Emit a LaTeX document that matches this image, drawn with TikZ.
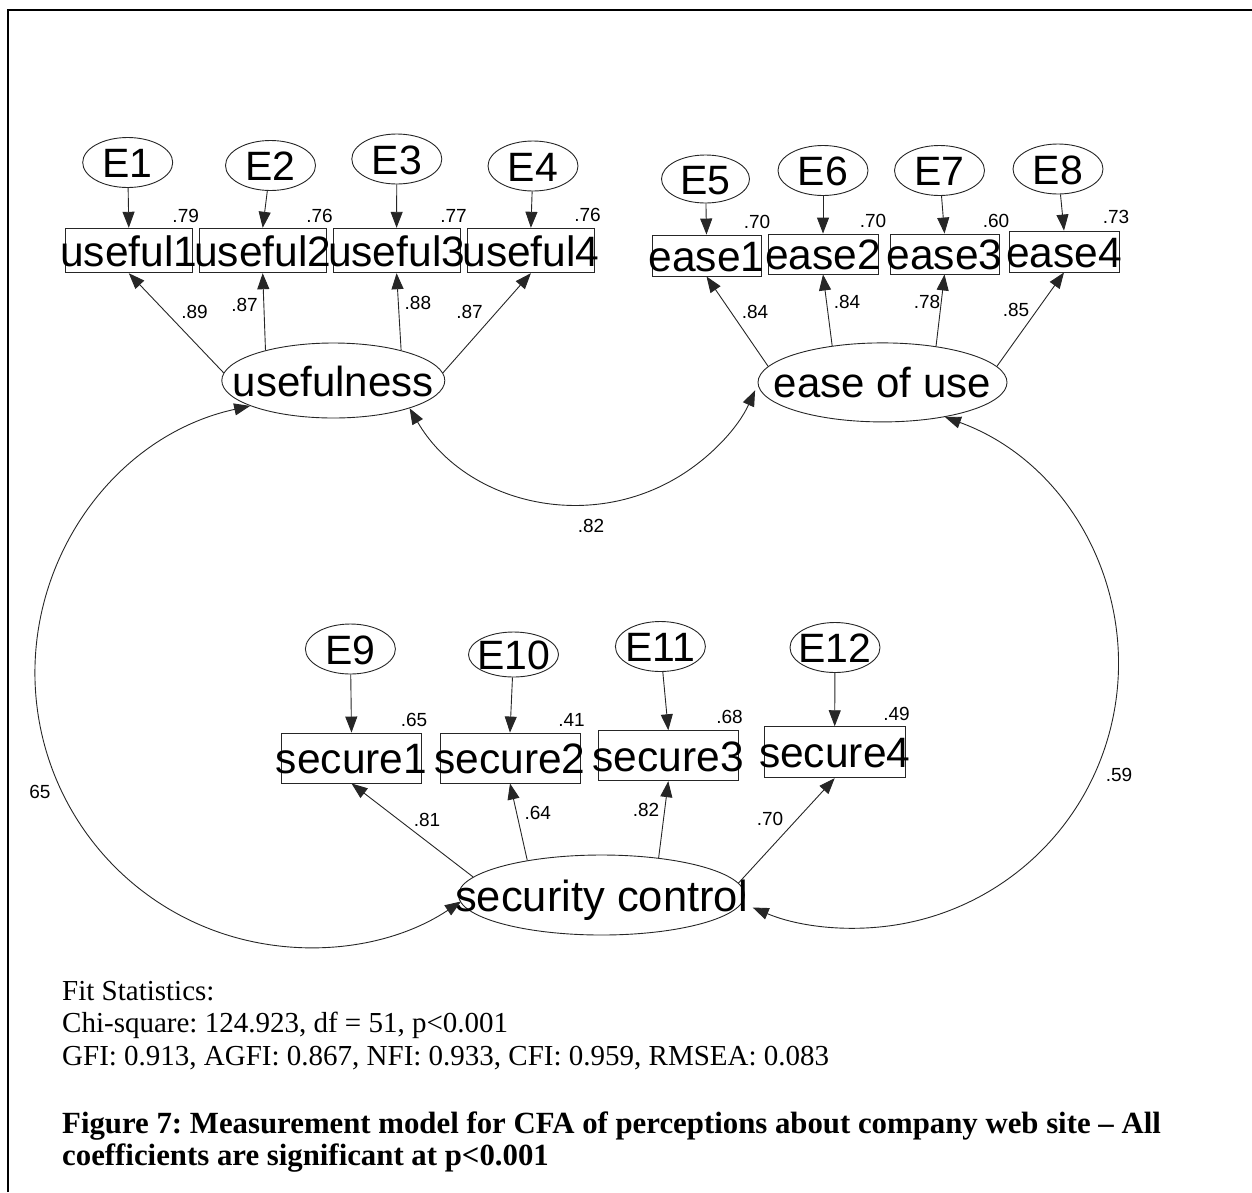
\documentclass[tikz,border=0pt]{standalone}
\usepackage{fontspec}
\setmainfont{Liberation Serif}
\newfontfamily\amosfont{Liberation Sans}
\usetikzlibrary{arrows.meta,shapes.geometric}
% text that does not widen its node: centred on the node, cap height in the middle
\newcommand{\centred}[1]{\raisebox{-0.37em}[0pt][0pt]{\makebox[0pt]{#1}}}
\frenchspacing
\begin{document}
\begin{tikzpicture}[x=1pt,y=1pt,
  >={Triangle[length=16pt,width=12pt]},
  stroke/.style={line width=0.9pt, draw=black!85},
  errvar/.style={ellipse, stroke, inner sep=0pt, minimum width=90pt, minimum height=50pt,
    font=\amosfont\fontsize{41}{41}\selectfont},
  latent/.style={ellipse, stroke, inner sep=0pt, font=\amosfont\fontsize{42}{42}\selectfont},
  obs/.style={rectangle, stroke, inner sep=0pt, font=\amosfont\fontsize{42.5}{42.5}\selectfont},
  coef/.style={inner sep=0pt, font=\amosfont\fontsize{19}{19}\selectfont},
  reg/.style={stroke, ->},
  cov/.style={stroke, <->},
  note/.style={inner sep=0pt, anchor=base west, font=\fontsize{29}{29}\selectfont},
  capline/.style={note, font=\fontsize{30.8}{30.8}\selectfont\bfseries},
]
\useasboundingbox (0,0) rectangle (1252,-1192);
% page frame
\draw[line width=2pt] (7.5,-1192) -- (7.5,-10) -- (1252,-10);

% ---------- usefulness ----------
\node[latent, minimum width=223pt, minimum height=75pt] (use) at (333.3,-380.5) {\centred{usefulness}};
\node[obs, minimum width=126.7pt, minimum height=44.5pt] (u1) at (128.8,-250.5) {\centred{useful1}};
\node[obs, minimum width=126.7pt, minimum height=44.5pt] (u2) at (262.7,-250.5) {\centred{useful2}};
\node[obs, minimum width=126.7pt, minimum height=44.5pt] (u3) at (396.6,-250.5) {\centred{useful3}};
\node[obs, minimum width=127.5pt, minimum height=44.5pt] (u4) at (530.9,-250.5) {\centred{useful4}};
\node[errvar] (E1) at (127.7,-162.5) {\centred{E1}};
\node[errvar] (E2) at (270.5,-165.5) {\centred{E2}};
\node[errvar] (E3) at (396.8,-159) {\centred{E3}};
\node[errvar] (E4) at (533,-166) {\centred{E4}};

% ---------- ease of use ----------
\node[latent, minimum width=249pt, minimum height=79pt] (ease) at (882.5,-382.4) {\centred{ease of use}};
\node[obs, minimum width=109pt, minimum height=41pt] (e1) at (706.5,-255.5) {\centred{ease1}};
\node[obs, minimum width=110pt, minimum height=40pt] (e2) at (823,-254) {\centred{ease2}};
\node[obs, minimum width=109pt, minimum height=40pt] (e3) at (944.5,-254) {\centred{ease3}};
\node[obs, minimum width=110pt, minimum height=41pt] (e4) at (1064,-251.5) {\centred{ease4}};
\node[errvar, minimum width=88pt, minimum height=48pt] (E5) at (705.5,-179) {\centred{E5}};
\node[errvar] (E6) at (823,-170.5) {\centred{E6}};
\node[errvar] (E7) at (939.5,-170.5) {\centred{E7}};
\node[errvar] (E8) at (1058,-169) {\centred{E8}};

% ---------- security control ----------
\node[latent, minimum width=286pt, minimum height=80pt, font=\amosfont\fontsize{43.5}{43.5}\selectfont]
  (sec) at (601.5,-895) {\centred{security control}};
\node[obs, minimum width=140pt, minimum height=50pt] (s1) at (351.5,-758) {\centred{secure1}};
\node[obs, minimum width=140pt, minimum height=50pt] (s2) at (510,-758) {\centred{secure2}};
\node[obs, minimum width=140.6pt, minimum height=50pt] (s3) at (668.3,-755.7) {\centred{secure3}};
\node[obs, minimum width=140.5pt, minimum height=51pt] (s4) at (834.7,-752.2) {\centred{secure4}};
\node[errvar] (E9) at (350.4,-649) {\centred{E9}};
\node[errvar, minimum height=45pt] (E10) at (513.5,-654.5) {\centred{E10}};
\node[errvar] (E11) at (660.4,-646.5) {\centred{E11}};
\node[errvar] (E12) at (835,-647.5) {\centred{E12}};

% ---------- error terms ----------
\foreach \e/\o in {E1/u1,E2/u2,E3/u3,E4/u4,E5/e1,E6/e2,E7/e3,E8/e4,E9/s1,E10/s2,E11/s3,E12/s4}
  \draw[reg] (\e) -- (\o.north);

% ---------- loadings ----------
\draw[reg] (use.176)   -- (u1.south);
\draw[reg] (use.156.5) -- (u2.south);
\draw[reg] (use.24.8)  -- (u3.south);
\draw[reg] (use.4)     -- (u4.south);
\draw[reg] (ease.172.5) -- (e1.south);
\draw[reg] (ease.144)   -- (e2.south);
\draw[reg] (ease.34)    -- (e3.south);
\draw[reg] (ease.8.5)   -- (e4.south);
\draw[reg] (sec.172.8) -- (s1.south);
\draw[reg] (sec.155)   -- (s2.south);
\draw[reg] (sec.33.3)  -- (s3.south);
\draw[reg] (sec.5.6)   -- (s4.south);

% ---------- covariances ----------
\draw[cov] (use.-20.4) arc[start angle=210.2, end angle=335.8, radius=194.5pt];
\draw[cov] (use.197.6) arc[start angle=102.4, end angle=303.7, radius=274pt];
\draw[cov] (ease.-29.4) arc[start angle=70, end angle=-112.8, radius=263.5pt];

% ---------- squared multiple correlations ----------
\node[coef] (r1)  at (185.7,-216) {.79};
\node[coef] (r2)  at (319.6,-216) {.76};
\node[coef] (r3)  at (453.6,-216) {.77};
\node[coef] (r4)  at (587.5,-215) {.76};
\node[coef] (r5)  at (757,-222) {.70};
\node[coef] (r6)  at (873,-221) {.70};
\node[coef] (r7)  at (996,-221) {.60};
\node[coef] (r8)  at (1116,-217) {.73};
\node[coef] (r9)  at (414,-720) {.65};
\node[coef] (r10) at (571.6,-720) {.41};
\node[coef] (r11) at (729.6,-716.7) {.68};
\node[coef] (r12) at (896.5,-713.5) {.49};

% ---------- standardised loadings ----------
\node[coef] (l1)  at (194.6,-312) {.89};
\node[coef] (l2)  at (244.6,-305) {.87};
\node[coef] (l3)  at (417.9,-303) {.88};
\node[coef] (l4)  at (469.6,-312) {.87};
\node[coef] (l5)  at (755,-312) {.84};
\node[coef] (l6)  at (847,-302) {.84};
\node[coef] (l7)  at (927,-302) {.78};
\node[coef] (l8)  at (1016,-310) {.85};
\node[coef] (l9)  at (427,-820) {.81};
\node[coef] (l10) at (537.7,-812.7) {.64};
\node[coef] (l11) at (646,-810) {.82};
\node[coef] (l12) at (770,-818.5) {.70};

% ---------- correlations ----------
\node[coef] (c1) at (591,-526) {.82};
\node[coef] (c2) at (40,-792) {65};
\node[coef] (c3) at (1119,-775) {.59};

% ---------- fit statistics and caption ----------
\node[note] (fit1) at (62,-1000) {Fit Statistics:};
\node[note] (fit2) at (62,-1032) {Chi-square: 124.923, df = 51, p<0.001};
\node[note] (fit3) at (62,-1065) {GFI: 0.913, AGFI: 0.867, NFI: 0.933, CFI: 0.959, RMSEA: 0.083};
\node[capline] (cap1) at (62,-1133)
  {Figure 7: Measurement model for CFA of perceptions about company web site -- All};
\node[capline] (cap2) at (62,-1165)
  {coefficients are significant at p<0.001};
\end{tikzpicture}
\end{document}
